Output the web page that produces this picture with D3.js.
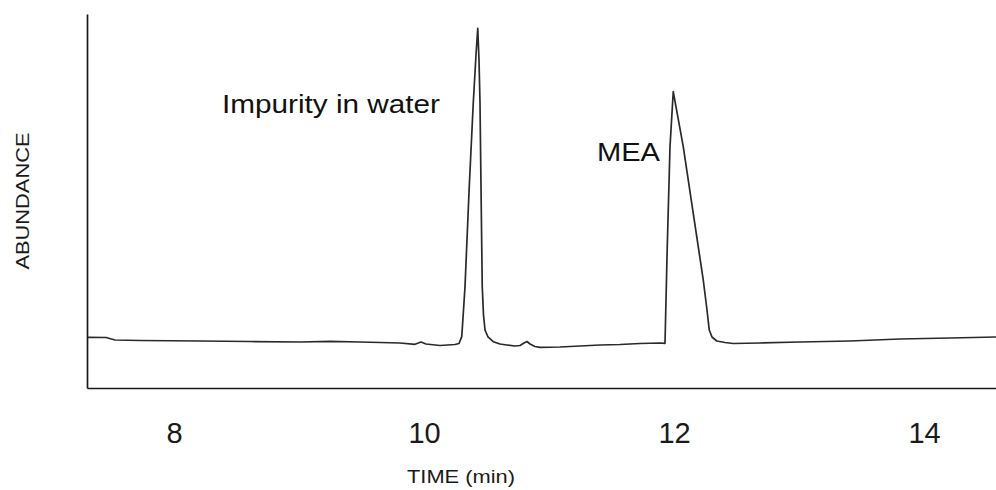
<!DOCTYPE html>
<html>
<head>
<meta charset="utf-8">
<script src="https://cdn.jsdelivr.net/npm/d3@7"></script>
<style>
  html, body { margin: 0; padding: 0; background: #ffffff; }
  svg { display: block; }
</style>
</head>
<body>
<svg id="chart" width="996" height="490"></svg>
<script>
// Retention time (min)
const times = [
  7.312, 7.456, 7.528, 7.728, 8.208, 8.608, 9.008, 9.248, 9.488, 9.648,
  9.808, 9.928, 9.976, 10.016, 10.128, 10.248, 10.280, 10.302, 10.316, 10.328,
  10.362, 10.394, 10.416, 10.430, 10.440, 10.448, 10.456, 10.466, 10.476, 10.488,
  10.512, 10.554, 10.608, 10.662, 10.728, 10.768, 10.800, 10.824, 10.848, 10.888,
  10.928, 11.088, 11.248, 11.408, 11.568, 11.728, 11.888, 11.928, 11.946, 11.968,
  11.994, 12.074, 12.154, 12.234, 12.264, 12.282, 12.304, 12.342, 12.408, 12.474,
  12.688, 13.008, 13.408, 13.808, 14.208, 14.576
];
// Abundance (relative units, 0-100 full scale)
const abundance = [
  13.56, 13.50, 12.83, 12.70, 12.57, 12.43, 12.30, 12.49, 12.30, 12.17,
  12.03, 11.68, 12.30, 11.76, 11.36, 11.63, 11.90, 13.72, 20.86, 27.09,
  53.82, 76.12, 89.04, 96.18, 87.70, 76.20, 53.82, 27.09, 19.52, 15.51,
  13.64, 12.38, 11.76, 11.50, 11.23, 11.36, 12.03, 12.43, 11.76, 11.10,
  10.88, 10.96, 11.23, 11.50, 11.63, 11.90, 12.03, 11.95, 37.78, 64.52,
  79.22, 64.52, 46.71, 28.88, 20.86, 15.51, 13.64, 12.57, 12.17, 11.90,
  12.03, 12.30, 12.57, 13.10, 13.37, 13.64
];
const xTicks = [8, 10, 12, 14];
const xDomain = [7.304, 14.576];
const yDomain = [0, 100];
const annotationLabels = ["Impurity in water", "MEA"];
const annotationTimes = [8.384, 11.384];   // left edge of each label, in minutes
const annotationLevels = [73.5, 60.7];     // baseline of each label, in abundance units
const xTitle = "TIME (min)";
const yTitle = "ABUNDANCE";

const data = times.map((t, i) => ({ t, a: abundance[i] }));

const svg = d3.select("#chart");
const x = d3.scaleLinear().domain(xDomain).range([87, 996]);
const y = d3.scaleLinear().domain(yDomain).range([388, 14]);

const font = "'Liberation Sans', Arial, Helvetica, sans-serif";
const ink = "#1a1a1a";

// X axis
const gx = svg.append("g")
  .attr("transform", `translate(0,${y(0)})`)
  .call(d3.axisBottom(x).tickValues(xTicks).tickSize(0).tickSizeOuter(0).tickFormat(d3.format("d")));
gx.select(".domain").attr("stroke", ink).attr("stroke-width", 1.7);
gx.selectAll(".tick text")
  .attr("y", 55).attr("dy", null)
  .attr("font-family", font).attr("font-size", 29).attr("fill", ink);

// Y axis (no ticks)
const gy = svg.append("g")
  .attr("transform", `translate(${x(xDomain[0])},0)`)
  .call(d3.axisLeft(y).tickValues([]).tickSize(0).tickSizeOuter(0));
gy.select(".domain").attr("stroke", ink).attr("stroke-width", 1.7);

// Chromatogram trace
const line = d3.line().x(d => x(d.t)).y(d => y(d.a));
svg.append("path")
  .datum(data)
  .attr("d", line)
  .attr("fill", "none")
  .attr("stroke", "#2a2a2a")
  .attr("stroke-width", 1.7)
  .attr("stroke-linejoin", "round");

// Peak annotations
const annWidths = [218, 63];
annotationLabels.forEach((lab, i) => {
  svg.append("text")
    .attr("x", x(annotationTimes[i]))
    .attr("y", y(annotationLevels[i]))
    .attr("font-family", font)
    .attr("font-size", 26)
    .attr("fill", "#111")
    .attr("textLength", annWidths[i])
    .attr("lengthAdjust", "spacingAndGlyphs")
    .text(lab);
});

// Axis titles
svg.append("text")
  .attr("x", 461).attr("y", 483)
  .attr("text-anchor", "middle")
  .attr("font-family", font).attr("font-size", 18)
  .attr("fill", ink)
  .attr("textLength", 108).attr("lengthAdjust", "spacingAndGlyphs")
  .text(xTitle);

svg.append("text")
  .attr("transform", "translate(29,201) rotate(-90)")
  .attr("text-anchor", "middle")
  .attr("font-family", font).attr("font-size", 19)
  .attr("fill", ink)
  .attr("textLength", 137).attr("lengthAdjust", "spacingAndGlyphs")
  .text(yTitle);
</script>
</body>
</html>
